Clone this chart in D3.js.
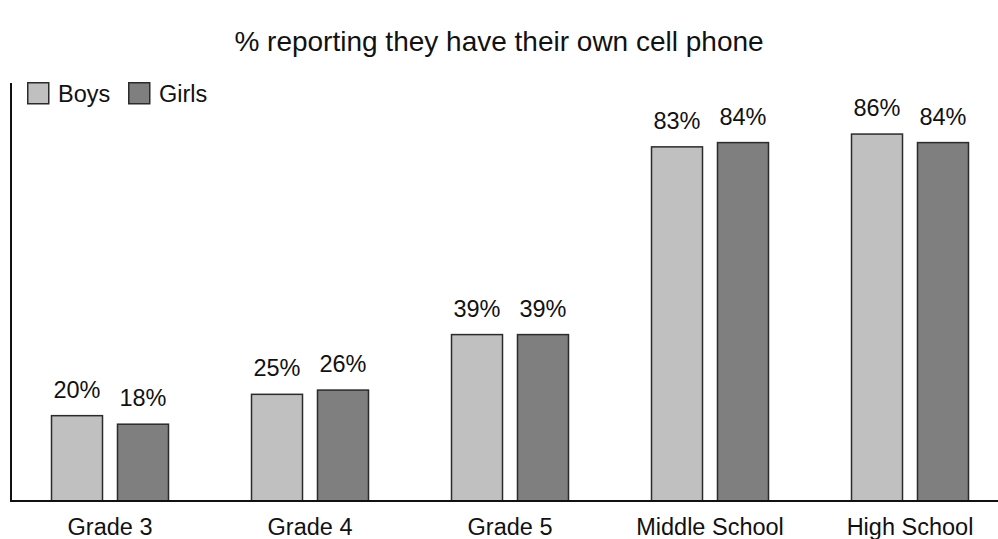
<!DOCTYPE html>
<html>
<head>
<meta charset="utf-8">
<script src="https://cdnjs.cloudflare.com/ajax/libs/d3/7.8.5/d3.min.js"></script>
<style>
  body { margin: 0; background: #fff; }
  svg { display: block; font-family: "Liberation Sans", Arial, sans-serif; }
</style>
</head>
<body>
<svg id="chart" width="998" height="539"></svg>
<script>
// chart data
const categories = ["Grade 3", "Grade 4", "Grade 5", "Middle School", "High School"];
const seriesNames = ["Boys", "Girls"];
const boys = [20, 25, 39, 83, 86];
const girls = [18, 26, 39, 84, 84];
const seriesColors = ["#c0c0c0", "#7f7f7f"];

const svg = d3.select("#chart");
const baseY = 501;

// scales
const x0 = d3.scaleBand().domain(categories).range([10, 1010]);
const x1 = d3.scaleBand().domain(seriesNames).range([0, 117]).paddingInner(0.227);
const y = d3.scaleLinear().domain([0, 97.5]).range([baseY, 85]);

const rows = categories.map((c, i) => ({ cat: c, values: [boys[i], girls[i]] }));

// title
svg.append("text")
    .attr("x", 499)
    .attr("y", 51)
    .attr("text-anchor", "middle")
    .attr("font-size", 28)
    .attr("fill", "#111")
    .text("% reporting they have their own cell phone");

// bars
const groups = svg.selectAll(".grp")
    .data(rows)
    .enter()
    .append("g")
    .attr("class", "grp")
    .attr("transform", d => `translate(${x0(d.cat) + x0.bandwidth() / 2 - 58.5},0)`);

groups.selectAll("rect")
    .data(d => d.values.map((v, j) => ({ name: seriesNames[j], v: v, j: j })))
    .enter()
    .append("rect")
    .attr("x", d => x1(d.name))
    .attr("y", d => y(d.v))
    .attr("width", x1.bandwidth())
    .attr("height", d => baseY - y(d.v))
    .attr("fill", d => seriesColors[d.j])
    .attr("stroke", "#2b2b2b")
    .attr("stroke-width", 1.5);

groups.selectAll(".val")
    .data(d => d.values.map((v, j) => ({ name: seriesNames[j], v: v })))
    .enter()
    .append("text")
    .attr("class", "val")
    .attr("x", d => x1(d.name) + x1.bandwidth() / 2)
    .attr("y", d => y(d.v) - 18)
    .attr("text-anchor", "middle")
    .attr("font-size", 23.5)
    .attr("fill", "#111")
    .text(d => d.v + "%");

// axes
svg.append("line")
    .attr("x1", 11).attr("x2", 11)
    .attr("y1", 83).attr("y2", baseY + 1)
    .attr("stroke", "#111").attr("stroke-width", 2);

const xAxis = svg.append("g")
    .attr("transform", `translate(0,${baseY})`)
    .call(d3.axisBottom(x0).tickSize(0).tickPadding(17));
xAxis.select(".domain").remove();
xAxis.selectAll("text")
    .attr("font-size", 23.5)
    .attr("font-family", "Liberation Sans, Arial, sans-serif")
    .attr("fill", "#111");

svg.append("line")
    .attr("x1", 10).attr("x2", 998)
    .attr("y1", baseY).attr("y2", baseY)
    .attr("stroke", "#111").attr("stroke-width", 2);

// legend
const legend = svg.append("g").attr("transform", "translate(27,82)");
const items = [
    { name: "Boys", color: seriesColors[0], x: 0 },
    { name: "Girls", color: seriesColors[1], x: 101 }
];
items.forEach(it => {
    legend.append("rect")
        .attr("x", it.x + 0.75).attr("y", 0.75)
        .attr("width", 21).attr("height", 21)
        .attr("fill", it.color)
        .attr("stroke", "#2b2b2b").attr("stroke-width", 1.5);
    legend.append("text")
        .attr("x", it.x + 31)
        .attr("y", 20)
        .attr("font-size", 23.5)
        .attr("fill", "#111")
        .text(it.name);
});
</script>
</body>
</html>
